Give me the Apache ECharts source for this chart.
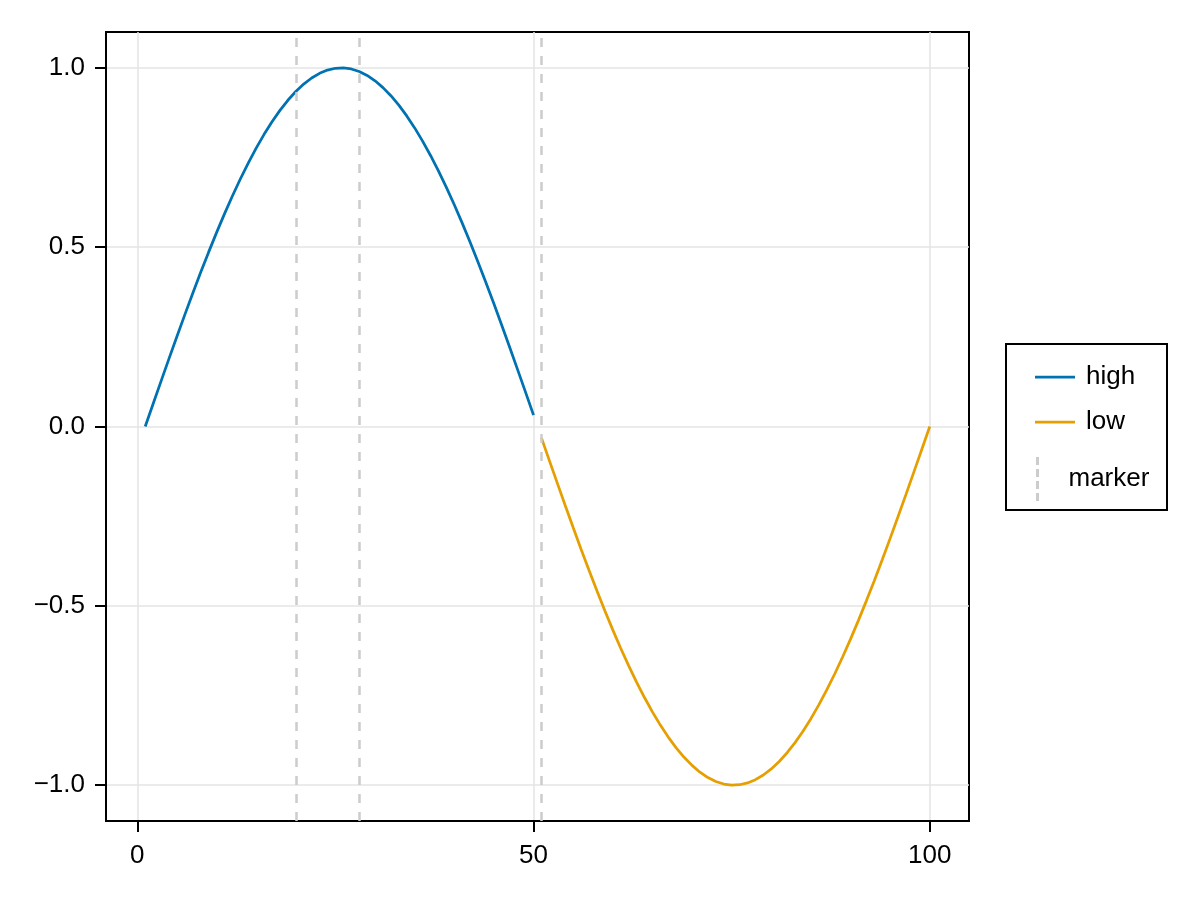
<!DOCTYPE html>
<html>
<head>
<meta charset="utf-8">
<script src="https://cdn.jsdelivr.net/npm/echarts@6/dist/echarts.min.js"></script>
<style>
html,body{margin:0;padding:0;background:#fff;}
#chart{width:1200px;height:900px;}
</style>
</head>
<body>
<div id="chart"></div>
<script>
// ---- data ----
const highX = [1,2,3,4,5,6,7,8,9,10,11,12,13,14,15,16,17,18,19,20,21,22,23,24,25,26,27,28,29,30,31,32,33,34,35,36,37,38,39,40,41,42,43,44,45,46,47,48,49,50];
const highY = [0, 0.0634, 0.1266, 0.1893, 0.2511, 0.3120, 0.3717, 0.4298, 0.4862, 0.5406, 0.5929, 0.6428, 0.6901, 0.7346, 0.7761, 0.8146, 0.8497, 0.8815, 0.9096, 0.9341, 0.9549, 0.9718, 0.9848, 0.9938, 0.9989, 0.9999, 0.9969, 0.9898, 0.9788, 0.9639, 0.9450, 0.9224, 0.8960, 0.8660, 0.8326, 0.7958, 0.7557, 0.7126, 0.6667, 0.6182, 0.5671, 0.5137, 0.4582, 0.4009, 0.3420, 0.2817, 0.2203, 0.1580, 0.0951, 0.0317];
const lowX = [51,52,53,54,55,56,57,58,59,60,61,62,63,64,65,66,67,68,69,70,71,72,73,74,75,76,77,78,79,80,81,82,83,84,85,86,87,88,89,90,91,92,93,94,95,96,97,98,99,100];
const lowY = [-0.0317, -0.0951, -0.1580, -0.2203, -0.2817, -0.3420, -0.4009, -0.4582, -0.5137, -0.5671, -0.6182, -0.6667, -0.7126, -0.7557, -0.7958, -0.8326, -0.8660, -0.8960, -0.9224, -0.9450, -0.9639, -0.9788, -0.9898, -0.9969, -0.9999, -0.9989, -0.9938, -0.9848, -0.9718, -0.9549, -0.9341, -0.9096, -0.8815, -0.8497, -0.8146, -0.7761, -0.7346, -0.6901, -0.6428, -0.5929, -0.5406, -0.4862, -0.4298, -0.3717, -0.3120, -0.2511, -0.1893, -0.1266, -0.0634, 0];
const markerX = [20, 28, 51];
const xTicks = [0, 50, 100];
const yTicks = [-1, -0.5, 0, 0.5, 1];
const seriesNames = ['high', 'low', 'marker'];

const FONT = '"Liberation Sans", Arial, Helvetica, sans-serif';
const FS = 26;
const BLUE = '#0072B2', ORANGE = '#E69F00', GRAY = '#cccccc', GRID = '#e5e5e5';

const pairs = (xs, ys) => xs.map((x, i) => [x, ys[i]]);
const minus = s => String(s).replace('-', '\u2212');

const chart = echarts.init(document.getElementById('chart'), null, {renderer: 'canvas'});
const axisCommon = {
  axisLine: {show: true, onZero: false, lineStyle: {color: '#000', width: 2}},
  axisTick: {show: true, inside: false, length: 11, lineStyle: {color: '#000', width: 2}},
  splitLine: {show: true, lineStyle: {color: GRID, width: 1.5}},
};
chart.setOption({
  animation: false,
  backgroundColor: '#fff',
  textStyle: {fontFamily: FONT},
  grid: {left: 106, right: 231, top: 32, bottom: 79, show: true, borderColor: '#000', borderWidth: 2, backgroundColor: 'transparent'},
  xAxis: Object.assign({
    type: 'value', min: -3.95, max: 104.95,
    axisLabel: {customValues: xTicks, fontSize: FS, color: '#000', fontFamily: FONT, margin: 22, formatter: v => minus(v)},
  }, axisCommon, {axisTick: Object.assign({customValues: xTicks}, axisCommon.axisTick)}),
  yAxis: Object.assign({
    type: 'value', min: -1.1, max: 1.1,
    axisLabel: {customValues: yTicks, fontSize: FS, color: '#000', fontFamily: FONT, margin: 21, formatter: v => minus(v.toFixed(1))},
  }, axisCommon, {axisTick: Object.assign({customValues: yTicks}, axisCommon.axisTick)}),
  legend: [
    {
      data: [seriesNames[0], seriesNames[1]], orient: 'vertical', left: 1035, top: 364,
      itemWidth: 40, itemHeight: 2.75, itemGap: 19, icon: 'rect',
      textStyle: {fontSize: FS, lineHeight: 26, color: '#000', fontFamily: FONT, padding: [0, 0, 0, 6]},
      padding: 0, selectedMode: false
    },
    {
      data: [seriesNames[2]], orient: 'vertical', left: 1036, top: 457,
      itemWidth: 4, itemHeight: 44,
      icon: 'path://M0,0h3v8h-3z M0,12h3v8h-3z M0,24h3v8h-3z M0,36h3v8h-3z',
      textStyle: {fontSize: FS, lineHeight: 26, color: '#000', fontFamily: FONT, padding: [0, 0, 0, 24]},
      padding: 0, selectedMode: false
    }
  ],
  graphic: [{
    type: 'rect', z: 100,
    shape: {x: 1006, y: 344, width: 161, height: 166},
    style: {fill: 'none', stroke: '#000', lineWidth: 2}
  }],
  series: [
    {name: seriesNames[0], type: 'line', data: pairs(highX, highY), showSymbol: false, color: BLUE, lineStyle: {color: BLUE, width: 2.75}, z: 3},
    {name: seriesNames[1], type: 'line', data: pairs(lowX, lowY), showSymbol: false, color: ORANGE, lineStyle: {color: ORANGE, width: 2.75}, z: 3},
    {name: seriesNames[2], type: 'line', data: [], color: GRAY, z: 2,
      markLine: {silent: true, symbol: 'none', label: {show: false}, animation: false,
        lineStyle: {color: GRAY, type: [9, 9], width: 2.5},
        data: markerX.map(x => ({xAxis: x}))}}
  ]
});
</script>
</body>
</html>
